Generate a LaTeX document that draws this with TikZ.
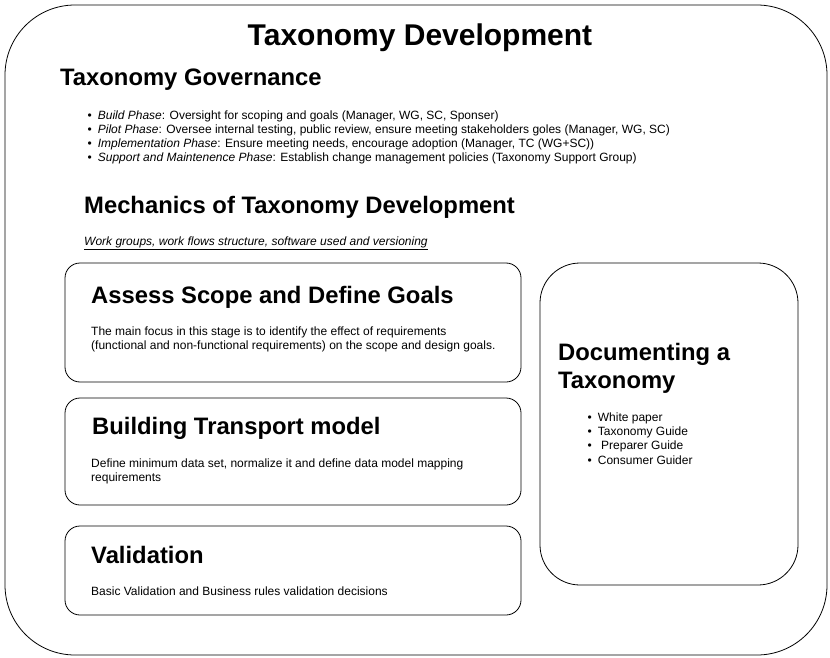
\documentclass[tikz,border=0pt]{standalone}
\usepackage{fontspec}
\setmainfont{Liberation Sans}
\usetikzlibrary{positioning}

\begin{document}
\begin{tikzpicture}[x=1pt, y=-1pt,
    box/.style={draw, line width=0.8pt, rounded corners=15pt},
    bigtitle/.style={inner sep=0pt, font=\fontsize{30}{34}\selectfont\bfseries},
    head/.style={anchor=west, inner sep=0pt, font=\fontsize{23.8}{28}\selectfont\bfseries},
    body/.style={anchor=west, inner sep=0pt, font=\fontsize{12}{14}\selectfont}]
        \useasboundingbox (0,0) rectangle (830,658);
        \draw[line width=0.8pt, rounded corners=70pt] (5,5) rectangle (827,655);

        \node[bigtitle] (title) at (420,38) {Taxonomy Development};
        \node[head] (gov) at (60,80) {Taxonomy Governance};

        % governance phases
        \foreach \y/\ph/\txt [count=\i] in {116/Build Phase/{Oversight for scoping and goals (Manager, WG, SC, Sponser)},
            130/Pilot Phase/{Oversee internal testing, public review, ensure meeting stakeholders goles (Manager, WG, SC)},
            144/Implementation Phase/{Ensure meeting needs, encourage adoption (Manager, TC (WG+SC))},
            158/Support and Maintenence Phase/{Establish change management policies (Taxonomy Support Group)}}
            \node[body] (phase\i) at (87.5,\y) {\textbullet\hspace{6pt}\textit{\ph}: \txt};

        \node[head] (mech) at (84,207) {Mechanics of Taxonomy Development};
        \node[body] (work) at (84,243) {\underline{\textit{Work groups, work flows structure, software used and versioning}}};

        % stages
        \draw[box] (65,263) rectangle (521,382);
        \node[head] (assess) at (91,297) {Assess Scope and Define Goals};
        \node[body, align=left] (assesstxt) at (91,339) {The main focus in this stage is to identify the effect of requirements\\(functional and non-functional requirements) on the scope and design goals.};

        \draw[box] (65,398) rectangle (521,505);
        \node[head] (build) at (92,428) {Building Transport model};
        \node[body, align=left] (buildtxt) at (91,471) {Define minimum data set, normalize it and define data model mapping\\requirements};

        \draw[box] (65,526) rectangle (521,615);
        \node[head] (valid) at (91,555) {Validation};
        \node[body] (validtxt) at (91,591) {Basic Validation and Business rules validation decisions};

        % documenting
        \draw[box, rounded corners=40pt] (540,263) rectangle (798,585);
        \node[head, align=left] (doc) at (558,368) {Documenting a\\Taxonomy};
        \foreach \y/\txt [count=\i] in {418/White paper, 432/Taxonomy Guide, 446/{\ Preparer Guide}, 460/Consumer Guider}
            \node[body] (docitem\i) at (587.5,\y) {\textbullet\hspace{6pt}\txt};
\end{tikzpicture}
\end{document}
